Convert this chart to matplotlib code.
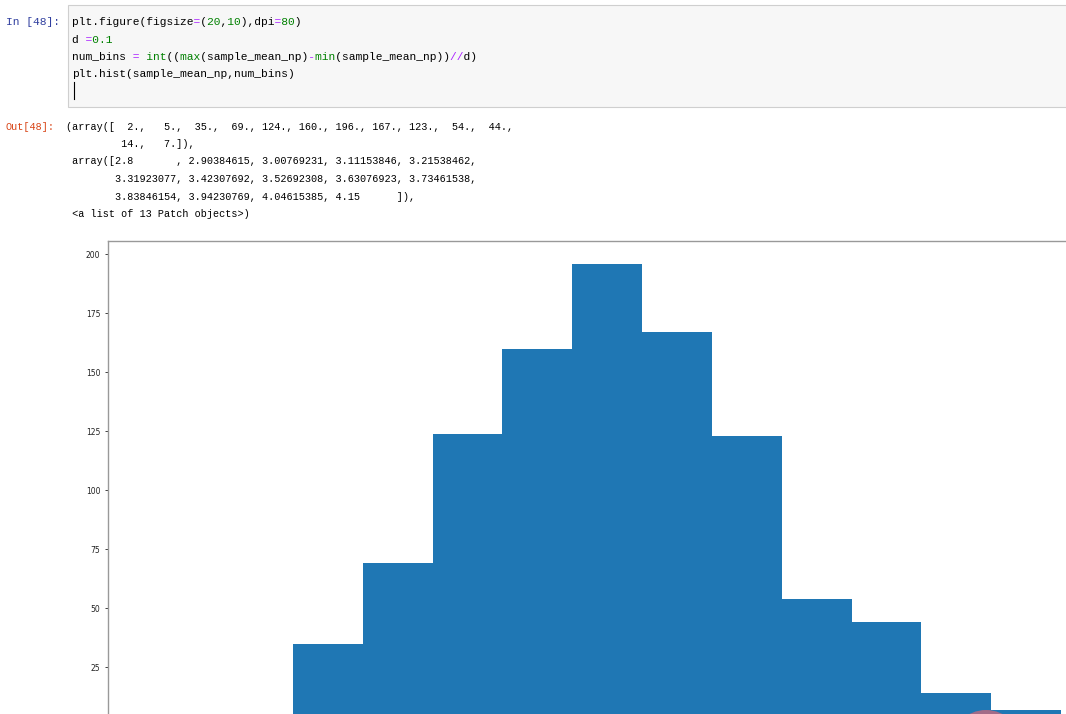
import numpy as np
import matplotlib
matplotlib.use("Agg")
import matplotlib.pyplot as plt
from matplotlib.patches import Rectangle, Ellipse
from matplotlib.lines import Line2D

# histogram result shown in the notebook output
counts = [2, 5, 35, 69, 124, 160, 196, 167, 123, 54, 44, 14, 7]
bin_edges = [2.8, 2.90384615, 3.00769231, 3.11153846, 3.21538462,
             3.31923077, 3.42307692, 3.52692308, 3.63076923, 3.73461538,
             3.83846154, 3.94230769, 4.04615385, 4.15]
y_ticks = [25, 50, 75, 100, 125, 150, 175, 200]  # 0 sits below the cropped edge

# code cell, as (text, colour) segments
BLK, PUR, GRN = "black", "#AA22FF", "#008000"
code_lines = [
    [("plt.figure(figsize", BLK), ("=", PUR), ("(", BLK), ("20", GRN), (",", BLK),
     ("10", GRN), ("),dpi", BLK), ("=", PUR), ("80", GRN), (")", BLK)],
    [("d ", BLK), ("=", PUR), ("0.1", GRN)],
    [("num_bins ", BLK), ("=", PUR), (" ", BLK), ("int", GRN), ("((", BLK), ("max", GRN),
     ("(sample_mean_np)", BLK), ("-", PUR), ("min", GRN), ("(sample_mean_np))", BLK),
     ("//", PUR), ("d)", BLK)],
    [("plt.hist(sample_mean_np,num_bins)", BLK)],
]
out_lines = [
    "(array([  2.,   5.,  35.,  69., 124., 160., 196., 167., 123.,  54.,  44.,",
    "         14.,   7.]),",
    " array([2.8       , 2.90384615, 3.00769231, 3.11153846, 3.21538462,",
    "        3.31923077, 3.42307692, 3.52692308, 3.63076923, 3.73461538,",
    "        3.83846154, 3.94230769, 4.04615385, 4.15      ]),",
    " <a list of 13 Patch objects>)",
]

W, H = 1066, 714
fig = plt.figure(figsize=(W / 100, H / 100), dpi=100)
mono = "Liberation Mono"


def fx(x):
    return x / W


def fy(y):
    return 1 - y / H


def put_line(segs, x0, y, size):
    # one full-width string per colour, other characters blanked out,
    # so every glyph sits on the same monospace grid
    for col in dict.fromkeys(c for _, c in segs):
        txt = "".join(t if c == col else " " * len(t) for t, c in segs)
        fig.text(fx(x0), fy(y), txt, color=col, family=mono,
                 fontsize=size, va="baseline", ha="left")


# input cell box
fig.patches.append(Rectangle((fx(68), fy(107)), fx(1070) - fx(68), fy(5) - fy(107),
                             transform=fig.transFigure, facecolor="#f7f7f7",
                             edgecolor="#cfcfcf", linewidth=0.8, zorder=0))
fig.text(fx(6), fy(25.3), "In [48]:", color="#303F9F", family=mono, fontsize=8.1,
         va="baseline")
for i, segs in enumerate(code_lines):
    put_line(segs, 72.5, 25.3 + i * 17.3, 8.15)
fig.lines.append(Line2D([fx(74), fx(74)], [fy(82), fy(99)], color="black",
                        linewidth=0.8, transform=fig.transFigure))

# output text
fig.text(fx(5.5), fy(129.5), "Out[48]:", color="#D84315", family=mono, fontsize=7.3,
         va="baseline")
for i, line in enumerate(out_lines):
    put_line([(line, BLK)], 66, 129.5 + i * 17.5, 7.3)

# histogram axes (figure is cropped on the right and bottom, like the screenshot)
ax = fig.add_axes([fx(108), fy(726.3), fx(1106.4) - fx(108), fy(240.6) - fy(726.3)])
ax.hist(bin_edges[:-1], bins=bin_edges, weights=counts, color="#1f77b4")
ax.set_yticks(y_ticks)
ax.tick_params(labelsize=5.5, length=2.5, width=0.6, pad=3.0, colors="#222222")
ax.tick_params(axis="x", labelbottom=False)
for sp in ax.spines.values():
    sp.set_linewidth(1.0)
    sp.set_color("#999999")

# cursor highlight blob at the bottom edge
fig.patches.append(Ellipse((fx(986), fy(746)), 72 / W, 72 / H, transform=fig.transFigure,
                           facecolor="#a36b88", edgecolor="none", zorder=5))

fig.savefig("out.png", dpi=100)
